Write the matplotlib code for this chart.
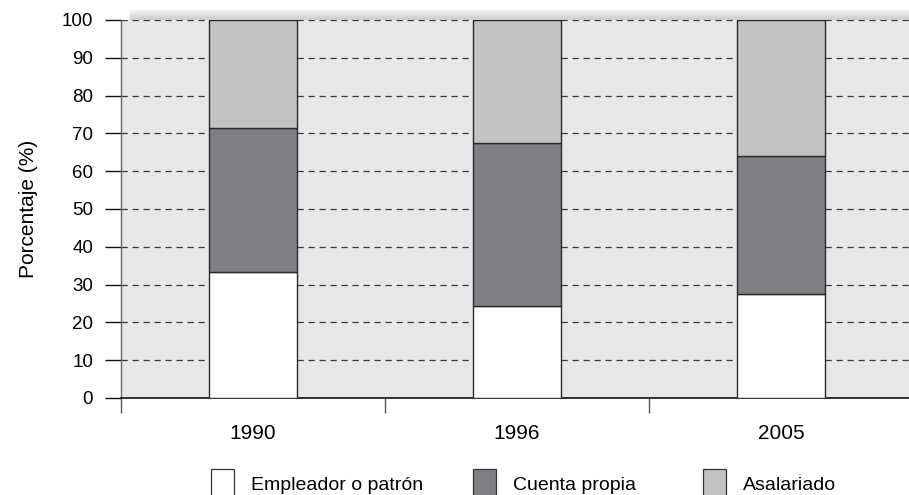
import matplotlib
matplotlib.use("Agg")
from matplotlib import pyplot as plt
from matplotlib.patches import Patch, Rectangle
import numpy as np

plt.rcParams['font.family'] = ['Liberation Sans', 'DejaVu Sans']

# data
years = ['1990', '1996', '2005']
empleador = [33.3, 24.4, 27.4]
cuenta_propia = [38.0, 43.1, 36.7]
asalariado = [28.7, 32.5, 35.9]
series_names = ['Empleador o patrón', 'Cuenta propia', 'Asalariado']
series_colors = ['#ffffff', '#7f8083', '#c1c2c4']
yticks = [0, 10, 20, 30, 40, 50, 60, 70, 80, 90, 100]

W, H = 909, 495
fig = plt.figure(figsize=(W / 100, H / 100), dpi=100)
ax = fig.add_axes([121 / W, 1 - 398 / H, (913 - 121) / W, (398 - 20) / H])
ax.set_facecolor('#e6e7e8')

# soft shadow strip above the plot
for i in range(10):
    shade = 0.95 - 0.017 * i
    fig.patches.append(Rectangle((130 / W, 1 - (11 + i) / H), 1, 1 / H,
                                 transform=fig.transFigure, facecolor=str(shade),
                                 edgecolor='none', zorder=0))

x = np.arange(1, len(years) + 1)
bw = 88 / 264
bottoms = np.zeros(len(years))
for vals, col in zip([empleador, cuenta_propia, asalariado], series_colors):
    ax.bar(x, vals, bw, bottom=bottoms, color=col, edgecolor='#2a2a2a',
           linewidth=1.0, zorder=3)
    bottoms += np.array(vals)

ax.set_xlim(0.5, 3.5)
ax.set_ylim(0, 100)
ax.set_yticks(yticks)
ax.set_yticklabels([str(v) for v in yticks])
for v in yticks[1:]:
    ax.axhline(v, color='#3a3a3a', linewidth=0.9, dashes=(5, 3.8), zorder=1)

# category boundaries as major ticks, year labels as minor ticks
ax.set_xticks([0.5, 1.5, 2.5])
ax.set_xticklabels([])
ax.set_xticks(x, minor=True)
ax.set_xticklabels(years, minor=True, fontsize=15)
ax.tick_params(axis='x', which='major', direction='out', length=10.5,
               width=1, color='#555555')
ax.tick_params(axis='x', which='minor', length=0, pad=19)
ax.tick_params(axis='y', direction='out', length=11.5, width=1,
               color='#111111', labelsize=13.5, pad=8.5)

for s in ['top', 'right']:
    ax.spines[s].set_visible(False)
ax.spines['left'].set_color('#666666')
ax.spines['left'].set_linewidth(1)
ax.spines['bottom'].set_color('#111111')
ax.spines['bottom'].set_linewidth(1.2)

fig.text(28 / W, 1 - 209 / H, 'Porcentaje (%)', rotation=90,
         ha='center', va='center', fontsize=15)

# one legend entry per item, placed where the reference has them
leg_x = [211, 473, 703]
for name, col, lx in zip(series_names, series_colors, leg_x):
    h = Patch(facecolor=col, edgecolor='#333333', linewidth=0.9)
    leg = fig.legend([h], [name], loc='center left',
                     bbox_to_anchor=(lx / W, 1 - 484 / H), frameon=False,
                     fontsize=14, borderpad=0, borderaxespad=0,
                     handlelength=1.2, handleheight=2.0, handletextpad=0.85)

fig.savefig('out.png', dpi=100)
